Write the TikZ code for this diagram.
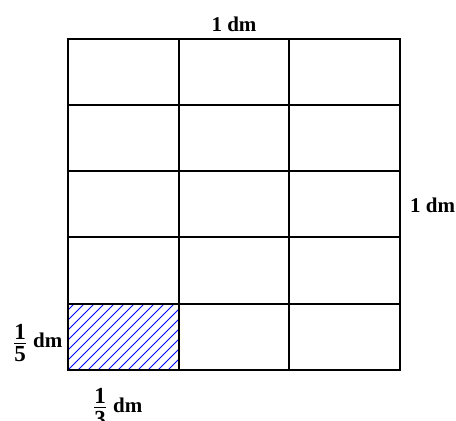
\documentclass[tikz,border=0pt]{standalone}
\usepackage{fontspec}
\setmainfont{Liberation Serif}
\begin{document}
\begin{tikzpicture}[x=1pt,y=-1pt,
  gridline/.style={line width=1.9pt, line cap=rect},
  hatch/.style={blue, line width=0.9pt},
  lbl/.style={inner sep=0pt, font=\fontsize{21}{25}\selectfont\bfseries},
  fracdigit/.style={inner sep=0pt, anchor=base, font=\fontsize{23}{27}\selectfont\bfseries},
  fracbar/.style={line width=1.6pt}]
\useasboundingbox (0,0) rectangle (456,421);
% hatch
\begin{scope}
\clip (68,304) rectangle (179,370);
\foreach \k in {0,...,18} {
  \draw[hatch] (68+\k*10-70,370) -- (68+\k*10,300);
}
\end{scope}
% grid
\foreach \x in {68,179,289,400} \draw[gridline] (\x,39) -- (\x,370);
\foreach \y in {39,105,171,237,304,370} \draw[gridline] (68,\y) -- (400,\y);
% labels
\node[lbl, anchor=base] (top) at (234,31) {1 dm};
\node[lbl, anchor=base west] (right) at (410,212) {1 dm};
% left fraction 1/5 dm
\node[fracdigit] (lnum) at (20,339) {1};
\draw[fracbar] (14,343.5) -- (26,343.5);
\node[fracdigit] (lden) at (20,361) {5};
\node[lbl, anchor=base west] (ldm) at (33,347) {dm};
% bottom fraction 1/3 dm
\node[fracdigit] (bnum) at (100,403) {1};
\draw[fracbar] (94,407.5) -- (106,407.5);
\node[fracdigit] (bden) at (100,426) {3};
\node[lbl, anchor=base west] (bdm) at (113,412) {dm};
\end{tikzpicture}
\end{document}
